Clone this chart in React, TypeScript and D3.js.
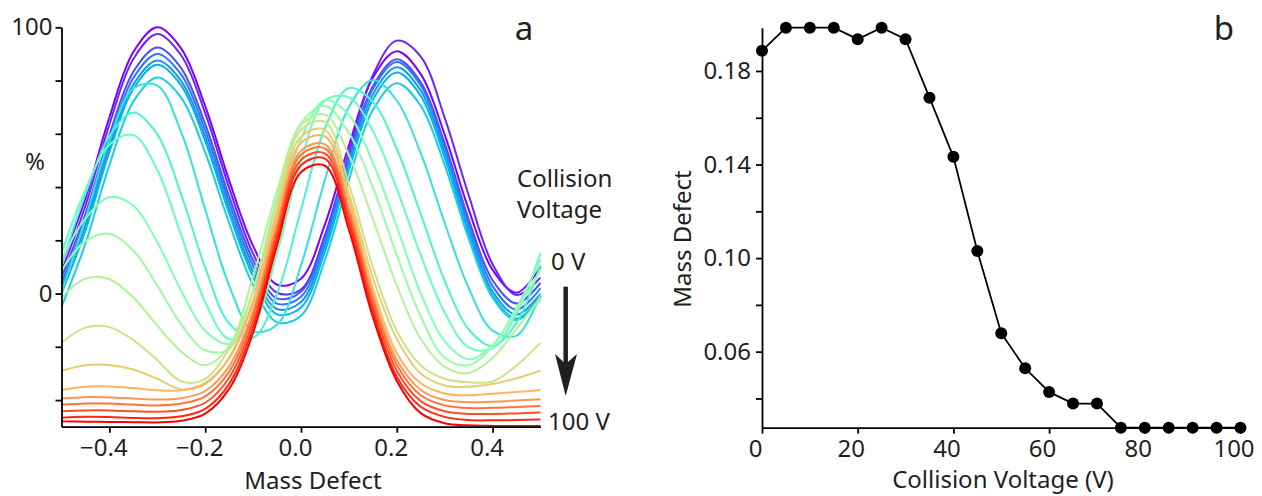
import React, { useEffect, useRef } from 'react';
import * as d3 from 'd3';

// panel a: mass defect grid (x) and one spectrum per collision voltage (%)
const massDefectGrid = [-0.5, -0.45, -0.4, -0.35, -0.3, -0.25, -0.2, -0.15, -0.1, -0.05, 0, 0.05, 0.1, 0.15, 0.2, 0.25, 0.3, 0.35, 0.4, 0.45, 0.5];

const voltages = [0, 5, 10, 15, 20, 25, 30, 35, 40, 45, 50, 55, 60, 65, 70, 75, 80, 85, 90, 95, 100];

const spec000 = [11.3, 35.8, 66.2, 90.7, 100, 92, 70.4, 42.5, 17.9, 3.3, 5.6, 26, 55.6, 81.1, 91, 82.4, 59.7, 31.6, 8.9, 0.3, 10];
const spec005 = [8.4, 33, 63.5, 88.1, 97.5, 89.4, 67.8, 39.7, 15, 0.3, 1.5, 22, 53, 82, 95, 89, 66, 37, 11, -0.5, 6];
const spec010 = [6.1, 29.9, 59.5, 83.3, 92.4, 84.6, 63.6, 36.4, 12.5, -1.8, 0.7, 21.6, 51.8, 77.9, 88, 79.3, 56.4, 27.9, 5, -3.7, 4];
const spec015 = [4, 27.8, 57.2, 81, 90, 82.2, 61.3, 34.2, 10.4, -3.8, -1.2, 19.8, 50.4, 76.8, 87, 78.2, 54.9, 26.1, 2.8, -6, 2];
const spec020 = [2, 25.6, 54.9, 78.5, 87.5, 79.8, 59, 32, 8.3, -5.8, -3.2, 17.8, 48.4, 74.8, 85, 76.2, 52.9, 24.1, 0.8, -8, 0];
const spec025 = [0, 23.7, 53.2, 76.9, 85.9, 78.1, 57.2, 30.2, 6.4, -7.8, -5.2, 15.8, 46.4, 72.8, 83, 74.2, 51.1, 22.4, -0.7, -9.5, -1];
const spec030 = [-5, 18.8, 48.3, 72.1, 81.1, 73.5, 53, 26.5, 3.1, -10.8, -8.3, 12.6, 42.8, 68.9, 79, 70.5, 48.3, 20.7, -1.5, -10, -2];
const spec035 = [0, 28.1, 57.7, 77, 78.1, 60.5, 31.6, 3, -14.1, -11.7, 10.6, 42.8, 70.1, 80.2, 72.5, 52.7, 26.5, 2.1, -13.9, -15.8, 0];
const spec040 = [10.8, 37.4, 59.2, 68, 59.8, 37.1, 9.8, -11.2, -16.5, 0, 31.5, 62.1, 77.2, 72, 54.3, 29.9, 4.8, -13.4, -19.7, -11, 10.8];
const spec045 = [15.2, 39, 55.9, 59.5, 46.4, 21.9, -3.2, -17.1, -11.7, 15.2, 49.8, 72.5, 73.7, 61.1, 39.3, 14.4, -7.1, -20.2, -20.6, -7.4, 15.2];
const spec050 = [12.9, 28.2, 36.2, 33, 19.3, 1, -14, -18.9, -4.2, 27.1, 58, 72.6, 67.1, 49.2, 25.1, 0.1, -17.9, -24.7, -19.4, -5.4, 12.9];
const spec055 = [8.7, 19.7, 22.5, 16.2, 3, -11.6, -21.3, -20.8, 1.2, 36.2, 64, 70.4, 60.4, 40, 14.4, -8.6, -24.1, -26.9, -19.8, -6.3, 8.7];
const spec060 = [-1.5, 5.6, 5.4, -1.5, -12.1, -21.8, -26.9, -19.7, 6.5, 38.6, 63.3, 67.2, 52, 28, 3, -17, -27.5, -29.8, -24.2, -13.2, -1.5];
const spec065 = [-18.5, -12.8, -12.6, -17.5, -25, -33, -32, -20.6, 0.7, 33.8, 61.5, 64.5, 41, 10, -14, -27, -32, -33.3, -33, -27, -18.5];
const spec070 = [-29, -26.9, -26.8, -28.5, -32, -36, -34, -24, -2.5, 31.2, 59, 61.5, 37.5, 6, -17, -30, -34.5, -35, -34, -31.8, -29];
const spec075 = [-36.2, -35, -34.9, -35.5, -36.3, -36.3, -33.6, -24.3, -3.4, 29.3, 56.6, 59, 35.2, 2, -22.4, -33.7, -37.5, -38.2, -37.6, -37, -36.2];
const spec080 = [-39.4, -38.9, -39, -39.4, -39.8, -39.3, -36.6, -27.3, -6.4, 26.3, 53.6, 56, 32.2, -0.7, -24.9, -36.2, -40, -40.8, -40.6, -40.2, -39.7];
const spec085 = [-41.8, -41.3, -41.3, -41.7, -42, -41.3, -38.6, -29.3, -8.2, 24.6, 52.1, 54.5, 30.5, -2.5, -26.8, -38.2, -42, -43, -42.9, -42.6, -42.2];
const spec090 = [-44.2, -43.9, -43.9, -44.2, -44.4, -43.7, -41, -31.6, -10.4, 22.6, 50.2, 52.6, 28.5, -4.7, -29, -40.4, -44.2, -45.2, -45.2, -45, -44.7];
const spec095 = [-46.6, -46.3, -46.4, -46.7, -46.8, -46.1, -43.3, -33.9, -12.6, 20.5, 48.2, 50.7, 26.5, -6.7, -31.2, -42.5, -46.3, -47.5, -47.6, -47.5, -47.3];
const spec100 = [-48, -48.1, -48.2, -48.3, -48.4, -47.8, -45.1, -35.8, -14.7, 18.1, 45.6, 48, 24, -8.8, -32.8, -44.9, -48.7, -49.5, -49.7, -49.7, -49.7];

const spectra = [spec000, spec005, spec010, spec015, spec020, spec025, spec030, spec035, spec040, spec045, spec050,
  spec055, spec060, spec065, spec070, spec075, spec080, spec085, spec090, spec095, spec100];

// panel b: peak mass defect per collision voltage
const peakMassDefect = [0.1886, 0.1985, 0.1985, 0.1985, 0.1936, 0.1985, 0.1936, 0.1686, 0.1433, 0.103, 0.0679,
  0.0529, 0.0428, 0.0378, 0.0378, 0.0275, 0.0275, 0.0275, 0.0275, 0.0275, 0.0275];

const xTicksA = [-0.4, -0.2, 0, 0.2, 0.4];
const yTicksA = [-40, -20, 0, 20, 40, 60, 80, 100];
const yLabelsA = [0, 100];
const xTicksB = [0, 20, 40, 60, 80, 100];
const yTicksB = [0.04, 0.06, 0.08, 0.1, 0.12, 0.14, 0.16, 0.18];
const yLabelsB = [0.06, 0.1, 0.14, 0.18];

// matplotlib-like "rainbow" colormap
const rainbow = (t: number) => {
  const r = Math.min(1, Math.abs(2 * t - 0.5));
  const g = Math.sin(Math.PI * t);
  const b = Math.cos((Math.PI * t) / 2);
  return d3.rgb(r * 255, g * 255, b * 255).formatHex();
};

const FONT = "'Noto Sans', sans-serif";
const INK = '#231f20';

const styleAxis = (g: any) => {
  g.attr('font-family', FONT).attr('font-size', 24);
  g.select('.domain').attr('stroke', '#000').attr('stroke-width', 1.8);
  g.selectAll('.tick line').attr('stroke', '#000').attr('stroke-width', 1.8);
  g.selectAll('.tick text').attr('fill', INK);
};

const App = () => {
  const ref = useRef<SVGSVGElement>(null);

  useEffect(() => {
    const svg = d3.select(ref.current);
    svg.selectAll('*').remove();

    // ---------- panel a ----------
    const xA = d3.scaleLinear().domain([-0.5, 0.5]).range([61.5, 540.5]);
    const yA = d3.scaleLinear().domain([-50, 100]).range([426.7, 27.3]);

    svg.append('clipPath').attr('id', 'clipA')
      .append('rect').attr('x', 61.5).attr('y', 0).attr('width', 480).attr('height', 426.7);

    const line = d3.line<number>()
      .x((d, i) => xA(massDefectGrid[i]))
      .y((d) => yA(d))
      .curve(d3.curveCatmullRom.alpha(0.5));

    svg.append('g').attr('clip-path', 'url(#clipA)')
      .selectAll('path')
      .data(spectra)
      .enter()
      .append('path')
      .attr('d', (d) => line(d))
      .attr('fill', 'none')
      .attr('stroke-width', 2)
      .attr('stroke', (d, i) => rainbow(voltages[i] / 100));

    svg.append('g')
      .attr('transform', `translate(0,${yA(-50)})`)
      .call(d3.axisBottom(xA).tickValues(xTicksA).tickSize(6).tickSizeOuter(0).tickPadding(6)
        .tickFormat((d: any) => d3.format('.1f')(d)))
      .call(styleAxis)
      .selectAll('.tick text').attr('dx', -6);

    svg.append('g')
      .attr('transform', `translate(${xA(-0.5)},0)`)
      .call(d3.axisLeft(yA).tickValues(yTicksA).tickSize(6).tickSizeOuter(0).tickPadding(3)
        .tickFormat((d: any) => (yLabelsA.includes(d) ? String(d) : '')))
      .call(styleAxis);

    const text = (x: number, y: number, s: string, anchor = 'start', size = 24) =>
      svg.append('text').attr('x', x).attr('y', y).attr('text-anchor', anchor)
        .attr('font-family', FONT).attr('font-size', size).attr('fill', INK).text(s);

    text(35, 170, '%', 'middle');
    text(313, 489, 'Mass Defect', 'middle');
    text(524, 40, 'a', 'middle', 33);
    text(517, 187, 'Collision');
    text(517, 218, 'Voltage');
    text(551, 270, '0 V');
    text(548, 430, '100 V');

    svg.append('line')
      .attr('x1', 565.7).attr('x2', 565.7).attr('y1', 286.7).attr('y2', 368)
      .attr('stroke', INK).attr('stroke-width', 4.5);
    svg.append('path')
      .attr('d', 'M555,354 L565.7,396 L577,354 L565.7,364 Z')
      .attr('fill', INK);

    // ---------- panel b ----------
    const xB = d3.scaleLinear().domain([0, 100]).range([762, 1240.5]);
    const yB = d3.scaleLinear().domain([0.0275, 0.1985]).range([427.7, 27.7]);

    svg.append('g')
      .attr('transform', `translate(0,${yB(0.0275)})`)
      .call(d3.axisBottom(xB).tickValues(xTicksB).tickSize(6).tickSizeOuter(0).tickPadding(6))
      .call(styleAxis)
      .selectAll('.tick text').attr('dx', -7);

    svg.append('g')
      .attr('transform', `translate(${xB(0)},0)`)
      .call(d3.axisLeft(yB).tickValues(yTicksB).tickSize(6).tickSizeOuter(0).tickPadding(5)
        .tickFormat((d: any) => (yLabelsB.some((v) => Math.abs(v - d) < 1e-9) ? d3.format('.2f')(d) : '')))
      .call(styleAxis);

    const lineB = d3.line<number>()
      .x((d, i) => xB(voltages[i]))
      .y((d) => yB(d));

    svg.append('path')
      .attr('d', lineB(peakMassDefect))
      .attr('fill', 'none')
      .attr('stroke', '#000')
      .attr('stroke-width', 1.8);

    svg.append('g')
      .selectAll('circle')
      .data(peakMassDefect)
      .enter()
      .append('circle')
      .attr('cx', (d, i) => xB(voltages[i]))
      .attr('cy', (d) => yB(d))
      .attr('r', 6)
      .attr('fill', '#000');

    svg.append('text')
      .attr('transform', 'translate(691,239) rotate(-90)')
      .attr('text-anchor', 'middle')
      .attr('font-family', FONT).attr('font-size', 24).attr('fill', INK)
      .text('Mass Defect');
    text(1003, 488, 'Collision Voltage (V)', 'middle');
    text(1224, 40, 'b', 'middle', 33);
  }, []);

  return (
    <svg
      ref={ref}
      width={1262}
      height={496}
      style={{ position: 'absolute', left: 0, top: 0, background: '#fff' }}
    ></svg>
  );
};

export default App;
